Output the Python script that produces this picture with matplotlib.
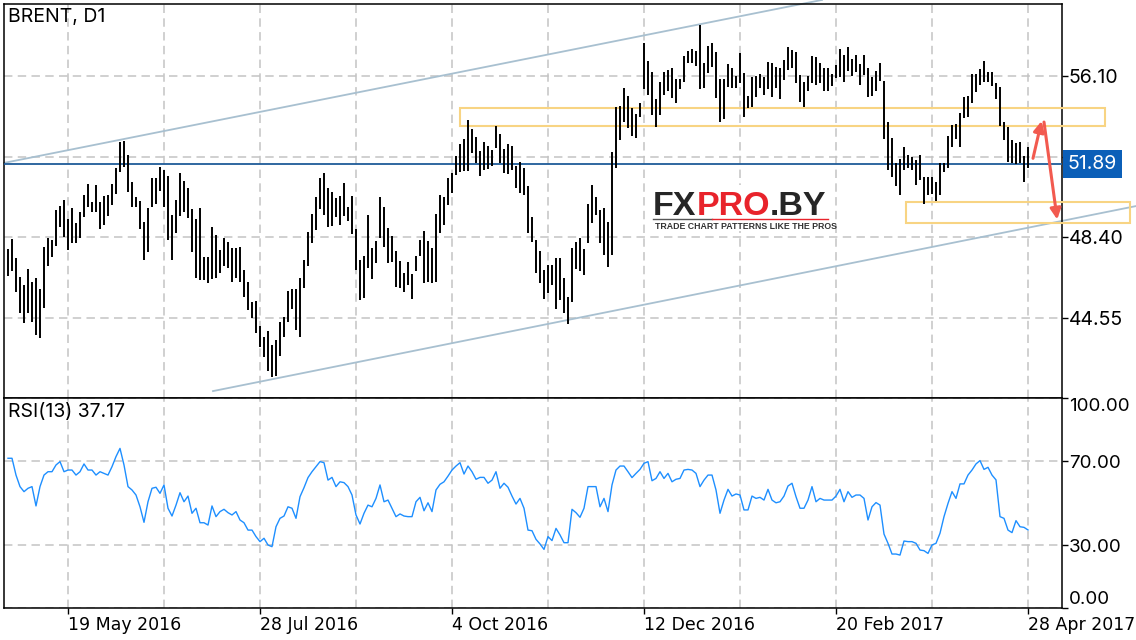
import numpy as np
import matplotlib.pyplot as plt
from matplotlib.patches import Rectangle

# daily Brent bars (high / low), oldest first
highs = [47.84, 48.32, 47.41, 46.50, 46.12, 46.89, 46.27, 46.46, 45.93, 47.94,
         48.37, 48.27, 49.70, 49.89, 50.18, 49.27, 49.80, 49.08, 49.61, 50.42,
         50.94, 50.08, 50.90, 50.08, 50.37, 50.42, 50.94, 51.71, 52.95, 53.00,
         52.33, 51.04, 50.32, 50.13, 49.13, 49.80, 51.23, 51.23, 51.76, 51.61,
         51.33, 49.46, 50.18, 51.47, 51.09, 50.75, 49.75, 49.27, 49.80, 47.46,
         47.46, 48.89, 48.51, 47.80, 48.37, 48.18, 47.89, 47.89, 47.94, 46.84,
         46.27, 45.31, 45.36, 44.17, 43.64, 43.93, 43.26, 43.50, 44.36, 44.60,
         45.84, 45.93, 45.93, 46.46, 47.32, 48.65, 49.51, 50.32, 51.23, 51.47,
         50.75, 50.56, 50.28, 50.37, 50.99, 49.85, 50.37, 48.80, 47.32, 47.51,
         49.46, 47.89, 48.22, 50.32, 49.85, 48.84, 48.46, 47.75, 47.27, 46.70,
         47.22, 46.65, 47.51, 48.27, 48.70, 48.22, 47.89, 49.51, 50.42, 50.32,
         51.23, 51.47, 52.28, 52.85, 53.09, 54.00, 53.57, 53.19, 52.52, 52.95,
         52.76, 52.57, 53.71, 53.33, 52.61, 52.85, 52.76, 51.80, 51.99, 51.71,
         50.85, 49.37, 48.27, 47.75, 46.84, 47.08, 47.08, 47.41, 47.41, 46.46,
         45.55, 47.89, 48.18, 48.37, 47.84, 49.99, 50.90, 50.32, 49.70, 49.80,
         49.13, 52.47, 54.62, 54.67, 55.53, 55.15, 54.57, 54.29, 54.81, 57.67,
         56.82, 56.29, 55.00, 55.81, 56.29, 56.38, 56.48, 55.96, 55.96, 57.06,
         57.30, 57.39, 57.30, 58.54, 56.72, 57.53, 57.67, 57.25, 55.96, 55.96,
         56.67, 56.48, 56.10, 57.20, 56.24, 55.15, 56.05, 56.10, 56.19, 56.05,
         56.77, 56.72, 56.53, 56.48, 56.86, 57.49, 57.34, 57.25, 56.15, 55.81,
         56.10, 57.06, 57.01, 56.72, 56.48, 56.48, 56.19, 56.63, 57.39, 57.10,
         57.49, 56.91, 57.10, 56.67, 57.10, 56.48, 56.05, 56.34, 56.72, 55.86,
         53.90, 53.14, 51.95, 52.14, 52.71, 52.33, 52.23, 52.09, 52.33, 51.28,
         51.28, 51.28, 51.04, 51.95, 51.95, 53.23, 53.76, 53.81, 54.33, 55.10,
         55.15, 56.19, 56.19, 56.43, 56.82, 56.29, 56.29, 55.77, 55.58, 53.90,
         53.66, 53.04, 52.90, 52.95, 52.28, 52.71]
lows = [46.55, 46.79, 45.79, 44.79, 44.31, 44.79, 44.36, 43.74, 43.59, 45.03,
        47.03, 47.46, 47.98, 48.89, 48.41, 47.80, 48.13, 48.13, 48.37, 49.37,
        49.85, 49.61, 49.61, 48.80, 48.99, 49.42, 49.94, 50.47, 51.52, 51.76,
        50.56, 49.85, 49.85, 48.80, 47.32, 47.70, 49.85, 49.99, 50.61, 49.85,
        48.27, 47.32, 48.60, 49.42, 49.61, 49.32, 47.70, 46.46, 46.36, 46.36,
        46.22, 46.41, 46.46, 46.70, 47.03, 46.94, 46.27, 46.46, 46.27, 45.55,
        44.93, 44.55, 43.83, 43.16, 42.69, 42.02, 41.73, 41.78, 42.73, 43.64,
        44.36, 44.98, 43.98, 43.64, 45.98, 47.03, 48.13, 48.75, 49.75, 49.46,
        48.89, 48.94, 49.37, 48.99, 49.42, 49.18, 48.56, 46.84, 45.41, 45.50,
        46.94, 46.41, 47.17, 48.37, 47.94, 47.17, 47.22, 46.03, 45.98, 45.79,
        46.12, 45.46, 46.79, 47.51, 46.22, 46.27, 46.22, 46.27, 48.60, 48.99,
        49.94, 50.51, 51.37, 51.52, 51.56, 51.56, 52.42, 51.95, 51.33, 51.61,
        51.66, 51.80, 52.66, 51.95, 51.47, 51.42, 51.61, 50.75, 50.51, 50.42,
        48.60, 48.18, 46.70, 46.22, 45.46, 45.74, 46.12, 44.98, 45.41, 44.79,
        44.26, 45.31, 46.89, 46.79, 46.60, 48.13, 49.08, 49.46, 48.13, 47.56,
        46.98, 47.56, 51.71, 53.04, 53.90, 53.61, 53.23, 53.14, 54.14, 55.48,
        55.20, 54.24, 53.66, 54.24, 55.20, 55.39, 55.05, 54.81, 55.48, 55.81,
        56.72, 56.72, 56.58, 55.48, 55.53, 56.24, 56.53, 55.05, 53.90, 54.05,
        55.58, 55.53, 55.53, 55.77, 54.14, 54.57, 54.62, 55.10, 55.53, 55.20,
        55.48, 55.10, 55.53, 55.00, 55.91, 56.39, 56.48, 55.77, 54.86, 54.62,
        55.39, 55.77, 55.67, 55.77, 55.39, 55.39, 55.62, 56.00, 56.05, 55.81,
        56.34, 56.10, 56.29, 55.67, 56.15, 55.10, 55.15, 55.39, 55.86, 53.09,
        51.61, 51.28, 50.85, 50.42, 51.61, 51.71, 51.61, 50.90, 51.14, 49.99,
        50.42, 50.47, 50.13, 50.42, 51.52, 51.71, 52.71, 53.09, 52.71, 54.09,
        54.14, 54.81, 55.34, 55.67, 55.81, 55.81, 55.62, 55.00, 53.71, 53.04,
        51.99, 51.95, 51.90, 51.95, 51.04, 51.71]
rsi = [71.3, 71.3, 63.3, 57.8, 55.4, 57.0, 57.8, 48.6, 57.8, 63.3,
       64.9, 64.9, 68.1, 69.7, 64.9, 65.7, 65.7, 63.3, 64.9, 68.6,
       65.7, 65.7, 63.3, 64.9, 64.1, 63.3, 67.3, 72.1, 76.0, 68.1,
       57.8, 56.2, 53.8, 48.2, 40.8, 50.6, 57.0, 57.5, 54.6, 58.6,
       47.5, 43.8, 49.0, 54.9, 50.6, 53.3, 45.1, 47.5, 40.6, 40.6,
       39.5, 48.6, 43.5, 45.9, 47.0, 45.4, 44.3, 45.9, 41.9, 40.6,
       37.1, 37.1, 34.0, 31.6, 33.2, 30.0, 29.2, 38.7, 42.7, 43.8,
       48.2, 47.5, 42.7, 53.0, 57.3, 62.1, 64.9, 67.3, 69.7, 69.2,
       60.9, 62.2, 57.8, 60.1, 59.7, 57.8, 53.8, 44.3, 40.0, 45.1,
       49.0, 48.2, 52.2, 58.6, 50.6, 51.4, 47.5, 43.5, 44.8, 43.8,
       43.5, 43.5, 50.6, 52.7, 46.3, 50.1, 45.9, 56.2, 58.9, 60.1,
       62.8, 65.7, 67.6, 69.2, 63.8, 67.6, 64.9, 61.3, 62.2, 62.2,
       59.4, 60.9, 64.9, 57.0, 59.4, 57.5, 53.3, 49.5, 52.2, 47.5,
       37.1, 36.8, 32.7, 30.5, 27.9, 34.0, 32.1, 37.9, 34.8, 31.1,
       31.1, 47.0, 45.4, 43.2, 47.5, 57.8, 57.8, 57.8, 48.2, 52.2,
       45.9, 58.6, 65.7, 67.6, 67.6, 64.9, 62.1, 64.1, 66.0, 68.9,
       69.7, 60.6, 61.7, 64.9, 61.7, 64.1, 60.1, 61.3, 61.7, 65.7,
       66.0, 65.7, 64.1, 57.8, 60.9, 63.3, 63.3, 56.2, 45.1, 51.4,
       56.5, 53.3, 54.3, 53.8, 46.7, 46.7, 53.3, 52.2, 52.7, 51.4,
       56.5, 51.4, 50.1, 50.6, 53.3, 58.1, 59.4, 53.0, 47.5, 47.5,
       51.4, 57.8, 50.6, 52.2, 51.4, 51.4, 51.4, 53.3, 56.5, 50.6,
       55.4, 52.7, 53.8, 53.8, 52.2, 41.9, 48.2, 50.2, 49.0, 35.2,
       30.8, 25.7, 25.7, 25.2, 31.9, 31.6, 31.6, 30.8, 27.6, 27.3,
       26.0, 30.0, 30.8, 35.6, 43.5, 49.8, 55.4, 52.2, 59.1, 59.1,
       63.3, 65.7, 68.6, 70.2, 66.0, 67.0, 63.3, 61.0, 43.5, 42.7,
       37.1, 35.9, 41.6, 38.7, 38.4, 37.17]

tick_bars = [15, 63, 111, 159, 207, 255]
tick_labels = ['19 May 2016', '28 Jul 2016', '4 Oct 2016', '12 Dec 2016',
               '20 Feb 2017', '28 Apr 2017']
price_ticks = [56.10, 52.25, 48.40, 44.55]
rsi_ticks = [0, 30, 70, 100]
last_price = 51.89
last_rsi = 37.17

# drawn objects: channel, zones, arrows (bar index, price)
upper_channel = ([-1, 203.5], [51.95, 59.73])
lower_channel = ([51.25, 282.0], [41.06, 49.89])
resist_zone = (113.0, 274.25, 53.71, 54.57)
support_zone = (224.5, 280.5, 49.08, 50.08)
arrow_up = ((256.25, 52.17), (258.4, 53.95))
arrow_down = ((259.0, 53.9), (262.3, 49.25))

plt.rcParams['font.family'] = ['Inter', 'DejaVu Sans']
grid_kw = dict(color='#c3c3c3', lw=1.1, ls=(0, (5.5, 3.5)))
logo_font = ['Liberation Sans', 'DejaVu Sans']

W, H = 1136, 640
fig = plt.figure(figsize=(W / 100, H / 100), dpi=100)
ax = fig.add_axes([4 / W, 1 - 398 / H, 1058 / W, 394 / H])
ax2 = fig.add_axes([4 / W, 32 / H, 1058 / W, 210 / H])

n = len(highs)
x = np.arange(n)
xlim = (-1, 263.5)
grid_bars = np.arange(tick_bars[0], xlim[1], 24)

# ---- price panel
ax.vlines(x, lows, highs, color='black', lw=1.4, zorder=4)
ax.set_xlim(*xlim)
ax.set_ylim(40.73, 59.535)
ax.set_xticks([])
ax.yaxis.tick_right()
ax.set_yticks(price_ticks, [f'{v:.2f}' for v in price_ticks])
ax.tick_params(axis='y', length=4, width=1, pad=1, labelsize=14)
ax.grid(True, axis='y', **grid_kw)
for g in grid_bars:
    ax.axvline(g, zorder=0.5, **grid_kw)
ax.set_axisbelow(True)

ax.plot(*upper_channel, color='#a8c0d0', lw=1.3, clip_on=False, zorder=2)
ax.plot(*lower_channel, color='#a8c0d0', lw=1.3, clip_on=False, zorder=2)
for x0, x1, y0, y1 in (resist_zone, support_zone):
    ax.add_patch(Rectangle((x0, y0), x1 - x0, y1 - y0, fill=False,
                           ec='#f8d483', lw=1.5, clip_on=False, zorder=3))
ax.axhline(last_price, color='#1f5c99', lw=1.3, zorder=3)
for tail, head in (arrow_up, arrow_down):
    ax.annotate('', xy=head, xytext=tail, annotation_clip=False, zorder=6,
                arrowprops=dict(arrowstyle='-|>', color='#f25a4f', lw=2.2,
                                mutation_scale=16, shrinkA=0, shrinkB=0))
ax.text(1.0055, last_price, f'{last_price:.2f}', transform=ax.get_yaxis_transform(),
        color='white', fontsize=14, ha='left', va='center', clip_on=False, zorder=10,
        bbox=dict(boxstyle='square,pad=0.25', fc='#0b5fb8', ec='none'))
ax.text(0.004, 0.99, 'BRENT, D1', transform=ax.transAxes, fontsize=14,
        ha='left', va='top')

# ---- RSI panel
ax2.plot(x, rsi, color='#1e8fff', lw=1.0)
ax2.set_xlim(*xlim)
ax2.set_ylim(0, 100)
ax2.set_xticks(tick_bars, tick_labels, ha='left', family=['DejaVu Sans'])
ax2.tick_params(axis='x', length=4, width=1, pad=2, labelsize=12.5)
for g in grid_bars:
    ax2.axvline(g, zorder=0.5, **grid_kw)
ax2.yaxis.tick_right()
ax2.set_yticks(rsi_ticks, [f'{v:.2f}' for v in rsi_ticks])
ax2.tick_params(axis='y', length=4, width=1, pad=1, labelsize=13.5)
ylabels = ax2.get_yticklabels()
ylabels[0].set_va('bottom')
ylabels[-1].set_va('top')
ax2.grid(True, axis='y', **grid_kw)
ax2.set_axisbelow(True)
ax2.text(0.004, 0.975, f'RSI(13) {last_rsi:.2f}', transform=ax2.transAxes,
         fontsize=14, ha='left', va='top')

for a in (ax, ax2):
    for s in a.spines.values():
        s.set_linewidth(1.1)

# ---- watermark logo (figure coords, drawn inside the price axes)
ax.add_patch(Rectangle((650 / W, 1 - 231 / H), 182 / W, 46 / H,
                       transform=fig.transFigure, fc='white', ec='none',
                       zorder=7, clip_on=False))
kw = dict(fontsize=24.5, fontweight='black', family=logo_font, ha='left',
          annotation_clip=False, zorder=8)
t1 = ax.annotate('FX', xy=(653 / W, 1 - 215 / H), xycoords='figure fraction',
                 color='#262626', va='baseline', **kw)
t2 = ax.annotate('PRO', xy=(1, 0), xycoords=t1, color='#e8232b', va='bottom', **kw)
t3 = ax.annotate('.BY', xy=(1, 0), xycoords=t2, color='#262626', va='bottom', **kw)
ax.plot([653 / W, 712 / W], [1 - 219 / H] * 2, color='#555555', lw=1,
        transform=fig.transFigure, clip_on=False, zorder=8)
ax.plot([712 / W, 828 / W], [1 - 219 / H] * 2, color='#e8232b', lw=1,
        transform=fig.transFigure, clip_on=False, zorder=8)
ax.annotate('TRADE CHART PATTERNS LIKE THE PROS', xy=(655 / W, 1 - 229 / H),
            xycoords='figure fraction', fontsize=6.3, fontweight='bold',
            family=logo_font, color='#333333', va='baseline',
            annotation_clip=False, zorder=8)

fig.savefig('out.png', dpi=100)
